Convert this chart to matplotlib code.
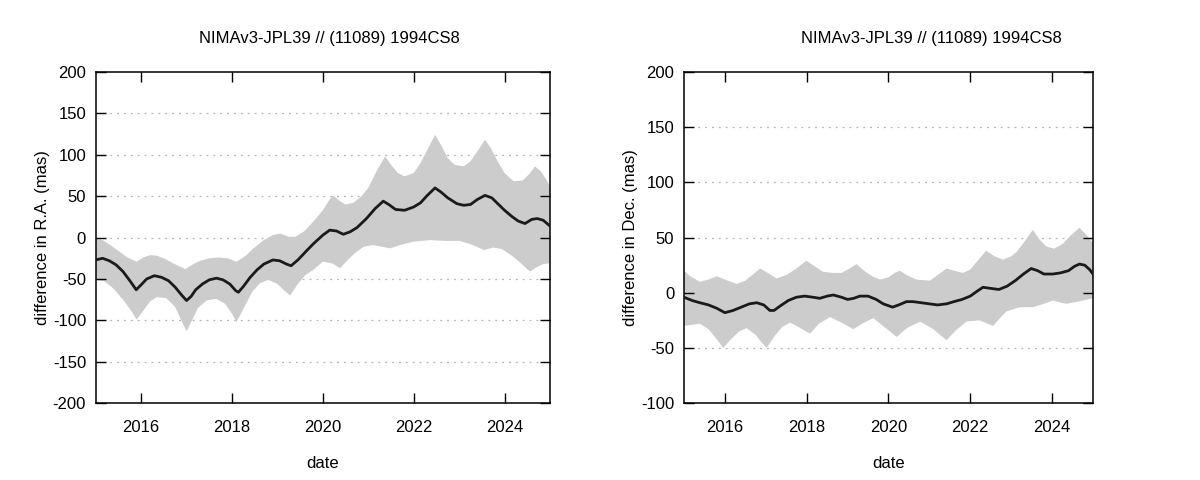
import matplotlib
matplotlib.use("Agg")
import matplotlib.pyplot as plt

plt.rcParams["font.family"] = ["Liberation Sans", "DejaVu Sans"]
plt.rcParams["font.size"] = 12
plt.rcParams["axes.unicode_minus"] = False   # gnuplot 风格的 "-200"

TITLE = "NIMAv3-JPL39 // (11089) 1994CS8"

# ── R.A. panel: 中心线 / 上下包络 (mas) ───────────────────────────────────────
ra_t = [2015.0, 2015.15, 2015.3, 2015.45, 2015.6, 2015.75, 2015.89, 2016.0, 2016.12, 2016.29,
        2016.45, 2016.6, 2016.75, 2016.9, 2017.0, 2017.1, 2017.2, 2017.35, 2017.5, 2017.66,
        2017.8, 2017.95, 2018.08, 2018.14, 2018.25, 2018.4, 2018.55, 2018.7, 2018.9, 2019.05,
        2019.2, 2019.3, 2019.45, 2019.64, 2019.8, 2020.0, 2020.15, 2020.3, 2020.45, 2020.6,
        2020.75, 2020.96, 2021.15, 2021.33, 2021.45, 2021.6, 2021.8, 2022.0, 2022.15, 2022.3,
        2022.47, 2022.6, 2022.75, 2022.95, 2023.1, 2023.25, 2023.4, 2023.57, 2023.72, 2023.85,
        2024.0, 2024.15, 2024.3, 2024.45, 2024.6, 2024.72, 2024.85, 2025.0]
ra_mid = [-27, -25, -28, -33, -41, -52, -63, -57, -50, -46,
          -48, -52, -60, -70, -76, -71, -63, -56, -51, -49,
          -51, -56, -64, -66, -59, -48, -39, -32, -27, -28,
          -32, -34, -27, -16, -7, 3, 9, 8, 4, 7,
          12, 23, 35, 44, 40, 34, 33, 37, 42, 51,
          60, 55, 48, 41, 39, 40, 46, 51, 48, 41,
          33, 26, 20, 17, 22, 23, 21, 14]

ra_up_t = [2015.0, 2015.15, 2015.32, 2015.5, 2015.7, 2015.9, 2016.05, 2016.2, 2016.35, 2016.5,
           2016.7, 2016.97, 2017.15, 2017.3, 2017.5, 2017.7, 2017.9, 2018.1, 2018.3, 2018.47,
           2018.7, 2018.9, 2019.06, 2019.25, 2019.4, 2019.6, 2019.8, 2020.0, 2020.15, 2020.23,
           2020.35, 2020.5, 2020.67, 2020.85, 2021.0, 2021.2, 2021.37, 2021.5, 2021.65, 2021.8,
           2022.0, 2022.15, 2022.3, 2022.47, 2022.6, 2022.75, 2022.9, 2023.1, 2023.25, 2023.4,
           2023.57, 2023.7, 2023.85, 2024.0, 2024.2, 2024.4, 2024.55, 2024.67, 2024.8, 2024.92,
           2025.0]
ra_up = [-1, -3, -9, -16, -24, -29, -24, -21, -22, -25,
         -31, -38, -32, -28, -25, -24, -25, -29, -22, -13,
         -3, 3, 5, 1, 1, 8, 20, 33, 46, 51,
         45, 40, 42, 50, 60, 82, 98, 88, 78, 74,
         78, 90, 106, 124, 112, 96, 88, 86, 92, 104,
         118, 108, 92, 78, 68, 69, 77, 86, 80, 70,
         62]

ra_lo_t = [2015.0, 2015.2, 2015.4, 2015.6, 2015.8, 2015.9, 2016.05, 2016.2, 2016.34, 2016.55,
           2016.75, 2016.9, 2017.0, 2017.12, 2017.25, 2017.44, 2017.65, 2017.85, 2018.0, 2018.1,
           2018.25, 2018.45, 2018.62, 2018.8, 2019.0, 2019.15, 2019.28, 2019.45, 2019.62, 2019.79,
           2020.0, 2020.2, 2020.38, 2020.55, 2020.7, 2020.9, 2021.1, 2021.3, 2021.48, 2021.7,
           2021.99, 2022.36, 2022.7, 2023.02, 2023.3, 2023.55, 2023.75, 2023.95, 2024.19, 2024.4,
           2024.56, 2024.7, 2024.85, 2025.0]
ra_lo = [-51, -53, -62, -75, -90, -99, -88, -77, -72, -73,
         -84, -102, -113, -100, -85, -76, -74, -80, -92, -102,
         -86, -65, -55, -51, -56, -64, -70, -56, -45, -39,
         -29, -31, -37, -27, -19, -11, -9, -11, -13, -9,
         -5, -3, -4, -4, -9, -15, -12, -14, -23, -33,
         -41, -36, -32, -31]

# ── Dec. panel ────────────────────────────────────────────────────────────────
de_t = [2015.0, 2015.2, 2015.39, 2015.6, 2015.8, 2016.0, 2016.2, 2016.4, 2016.6, 2016.78,
        2016.95, 2017.1, 2017.2, 2017.35, 2017.55, 2017.75, 2017.95, 2018.15, 2018.32, 2018.5,
        2018.65, 2018.85, 2019.0, 2019.15, 2019.3, 2019.5, 2019.7, 2019.87, 2020.1, 2020.25,
        2020.44, 2020.6, 2020.8, 2021.0, 2021.2, 2021.42, 2021.6, 2021.8, 2022.0, 2022.15,
        2022.31, 2022.5, 2022.7, 2022.9, 2023.1, 2023.3, 2023.49, 2023.65, 2023.8, 2024.02,
        2024.2, 2024.4, 2024.55, 2024.67, 2024.8, 2024.92, 2025.0]
de_mid = [-4, -7, -9, -11, -14, -18, -16, -13, -10, -9,
          -11, -16, -16, -12, -7, -4, -3, -4, -5, -3,
          -2, -4, -6, -5, -3, -3, -6, -10, -13, -11,
          -8, -8, -9, -10, -11, -10, -8, -6, -3, 1,
          5, 4, 3, 6, 11, 17, 22, 20, 17, 17,
          18, 20, 24, 26, 25, 21, 17]

de_up_t = [2015.0, 2015.15, 2015.39, 2015.6, 2015.8, 2016.0, 2016.29, 2016.5, 2016.7, 2016.86,
           2017.05, 2017.26, 2017.5, 2017.75, 2017.99, 2018.2, 2018.4, 2018.65, 2018.85, 2019.05,
           2019.22, 2019.4, 2019.6, 2019.79, 2020.0, 2020.15, 2020.28, 2020.45, 2020.68, 2021.01,
           2021.2, 2021.42, 2021.6, 2021.82, 2022.0, 2022.2, 2022.39, 2022.6, 2022.8, 2023.0,
           2023.13, 2023.3, 2023.53, 2023.7, 2023.86, 2024.05, 2024.25, 2024.43, 2024.67, 2024.85,
           2025.0]
de_up = [20, 15, 10, 12, 15, 12, 8, 11, 17, 22,
         18, 13, 16, 22, 29, 24, 19, 18, 18, 22,
         26, 20, 15, 12, 14, 18, 20, 16, 12, 11,
         16, 22, 20, 18, 21, 30, 38, 33, 30, 33,
         37, 45, 57, 48, 42, 40, 44, 51, 59, 52,
         45]

de_lo_t = [2015.0, 2015.39, 2015.6, 2015.8, 2015.96, 2016.15, 2016.35, 2016.53, 2016.75, 2016.9,
           2017.02, 2017.2, 2017.4, 2017.59, 2017.8, 2018.08, 2018.3, 2018.57, 2018.85, 2019.14,
           2019.4, 2019.63, 2019.9, 2020.2, 2020.45, 2020.77, 2021.1, 2021.42, 2021.65, 2021.91,
           2022.23, 2022.56, 2022.75, 2022.88, 2023.21, 2023.53, 2023.8, 2024.02, 2024.35, 2024.76,
           2025.0]
de_lo = [-30, -28, -33, -42, -50, -42, -35, -32, -38, -45,
         -50, -40, -31, -27, -31, -37, -28, -22, -27, -33,
         -27, -23, -31, -40, -32, -26, -33, -43, -34, -26,
         -25, -30, -22, -17, -13, -13, -10, -7, -10, -7,
         -5]

BAND = "#cccccc"


def band(ax, up_t, up, lo_t, lo):
    # 上包络正向 + 下包络反向，拼成一个多边形
    xs = list(up_t) + list(lo_t)[::-1]
    ys = list(up) + list(lo)[::-1]
    ax.fill(xs, ys, color=BAND, lw=0, zorder=1)


def setup_ax(ax, ylim, yticks, ylabel, title_x):
    ax.set_xlim(2015, 2025)
    ax.set_ylim(*ylim)
    ax.set_xticks([2016, 2018, 2020, 2022, 2024])
    ax.set_yticks(yticks)
    ax.tick_params(direction="in", length=7, width=1, top=True, right=True, labelsize=12)
    ax.tick_params(axis="x", pad=12)
    ax.tick_params(axis="y", pad=7)
    for y in yticks[1:-1]:
        ax.axhline(y, color="#b4b4b4", lw=0.9, ls=(0, (1.5, 4)), zorder=0.5)
    for s in ax.spines.values():
        s.set_linewidth(1.1)
    # gnuplot 的标题并不严格居中于坐标区
    ax.set_title(TITLE, fontsize=12, pad=21, x=title_x)
    ax.set_xlabel("date", fontsize=12, labelpad=15)
    ax.set_ylabel(ylabel, fontsize=12, labelpad=2)


fig = plt.figure(figsize=(12, 4.8), dpi=100)
ax1 = fig.add_axes([0.0798, 0.16, 0.3785, 0.69])
ax2 = fig.add_axes([0.570, 0.16, 0.3408, 0.69])

band(ax1, ra_up_t, ra_up, ra_lo_t, ra_lo)
ax1.plot(ra_t, ra_mid, color="#1a1a1a", lw=2.0, zorder=3)
setup_ax(ax1, (-200, 200), list(range(-200, 201, 50)), "difference in R.A. (mas)", 0.515)

band(ax2, de_up_t, de_up, de_lo_t, de_lo)
ax2.plot(de_t, de_mid, color="#1a1a1a", lw=2.0, zorder=3)
setup_ax(ax2, (-100, 200), list(range(-100, 201, 50)), "difference in Dec. (mas)", 0.606)

fig.savefig("out.png", dpi=100)
